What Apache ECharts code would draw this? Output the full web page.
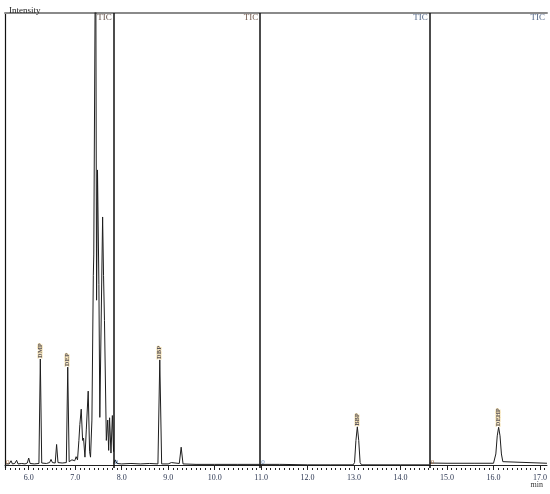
<!DOCTYPE html>
<html>
<head>
<meta charset="utf-8">
<script src="https://cdn.jsdelivr.net/npm/echarts@6/dist/echarts.min.js"></script>
<style>
	html, body { margin: 0; padding: 0; background: #fff; }
	#chart { width: 550px; height: 494px; }
</style>
</head>
<body>
<div id="chart"></div>
<script>
// time (min), intensity (% of full scale), one list per acquisition segment
const seg1 = [
	[5.49, 0.3], [5.58, 0.3], [5.62, 1.0], [5.65, 0.3], [5.70, 0.4], [5.74, 1.1], [5.77, 0.3],
	[5.85, 0.4], [5.92, 0.3], [5.97, 0.5], [6.00, 1.6], [6.03, 0.4], [6.12, 0.3], [6.22, 0.4],
	[6.25, 23.5], [6.28, 0.5], [6.38, 0.4], [6.45, 0.6], [6.48, 1.3], [6.51, 0.6], [6.57, 0.5],
	[6.60, 4.6], [6.63, 0.6], [6.72, 0.5], [6.81, 0.6], [6.84, 21.7], [6.87, 0.8], [6.90, 0.7],
	[6.93, 1.2], [6.96, 0.8], [6.99, 1.0], [7.02, 1.9], [7.05, 1.2], [7.08, 5.5], [7.10, 9.0],
	[7.13, 12.4], [7.16, 5.5], [7.18, 6.0], [7.21, 1.8], [7.24, 8.0], [7.28, 16.4], [7.31, 3.0],
	[7.33, 1.8], [7.36, 10.0], [7.39, 42.0], [7.40, 46.5], [7.44, 125], [7.46, 36.5], [7.48, 65.3],
	[7.51, 40.0], [7.53, 10.6], [7.59, 54.9], [7.61, 42.0], [7.63, 32.0], [7.67, 5.5], [7.70, 10.0],
	[7.72, 3.3], [7.74, 10.5], [7.77, 2.7], [7.80, 11.0], [7.826, 3.0]
];
const seg2 = [
	[7.83, 0.4], [7.86, 1.2], [7.90, 0.4], [8.00, 0.3], [8.20, 0.4], [8.40, 0.3], [8.60, 0.4],
	[8.78, 0.3], [8.82, 23.3], [8.86, 0.3], [9.00, 0.3], [9.07, 0.6], [9.10, 0.3], [9.24, 0.4],
	[9.28, 4.0], [9.32, 0.3], [9.60, 0.2], [10.00, 0.2], [10.50, 0.2], [10.97, 0.2]
];
const seg3 = [
	[10.98, 0.2], [11.40, 0.2], [11.42, 0.5], [11.45, 0.2], [12.00, 0.1], [12.50, 0.1], [12.98, 0.1],
	[13.01, 0.6], [13.04, 5.5], [13.07, 8.5], [13.10, 5.5], [13.13, 0.6], [13.16, 0.1], [14.00, 0.1],
	[14.62, 0.1]
];
const seg4 = [
	[14.63, 0.5], [15.00, 0.45], [15.60, 0.45], [16.00, 0.45], [16.02, 0.8], [16.05, 2.5], [16.08, 6.5],
	[16.11, 8.4], [16.14, 6.5], [16.17, 2.5], [16.20, 0.8], [16.23, 0.45], [17.15, 0.45]
];

const segStarts = [5.49, 7.83, 10.98, 14.63];
const segEnds = [7.83, 10.98, 14.63, 17.15];
const ticColors = ['#3a2218', '#4e3020', '#223c66', '#223c66'];
const zeroColors = ['#a0602a', '#3a6aa8', '#3a6aa8', '#a0602a'];

const peakNames = ['DMP', 'DEP', 'DBP', 'BBP', 'DEHP'];
const peakTimes = [6.25, 6.84, 8.82, 13.07, 16.11];
const peakHeights = [23.5, 21.7, 23.3, 8.5, 8.4];

const majorTicks = [6, 7, 8, 9, 10, 11, 12, 13, 14, 15, 16, 17];
let minorTicks = [];
for (let i = 55; i <= 171; i++) minorTicks.push(i / 10);

const font = 'Liberation Serif';

let chart = echarts.init(document.getElementById('chart'));

function segSeries(data) {
	return {
		type: 'line',
		data: data,
		showSymbol: false,
		symbol: 'none',
		silent: true,
		animation: false,
		lineStyle: { color: '#1e1e1e', width: 1 },
		z: 3
	};
}

let series = [seg1, seg2, seg3, seg4].map(segSeries);
series[0].markLine = {
	silent: true,
	symbol: 'none',
	animation: false,
	label: { show: false },
	lineStyle: { color: '#111', width: 1.5, type: 'solid' },
	data: segEnds.slice(0, 3).map(t => ({ xAxis: t }))
};

series.push({
	type: 'scatter',
	symbolSize: 0,
	silent: true,
	animation: false,
	data: peakNames.map((n, i) => ({ name: n, value: [peakTimes[i], peakHeights[i]] })),
	label: {
		show: true,
		formatter: '{b}',
		position: 'top',
		distance: 1,
		rotate: 90,
		align: 'left',
		verticalAlign: 'middle',
		fontSize: 6.5,
		fontWeight: 'bold',
		fontFamily: font,
		color: '#33334e',
		textBorderColor: 'rgba(235,190,80,0.6)',
		textBorderWidth: 1
	},
	z: 5
});

series.push({
	type: 'scatter',
	symbolSize: 0,
	silent: true,
	animation: false,
	data: segEnds.map((t, i) => ({ value: [t, 99], label: { color: ticColors[i] } })),
	label: {
		show: true,
		formatter: 'TIC',
		position: 'left',
		distance: 2,
		fontSize: 9,
		fontFamily: font
	},
	z: 5
});

series.push({
	type: 'scatter',
	symbolSize: 0,
	silent: true,
	animation: false,
	data: segStarts.map((t, i) => ({ value: [t, 0.6], label: { color: zeroColors[i] } })),
	label: {
		show: true,
		formatter: '0',
		position: 'right',
		distance: 1,
		fontSize: 7,
		fontFamily: font
	},
	z: 5
});

let option = {
	animation: false,
	title: [
		{ text: 'Intensity', left: 4, top: 1, textStyle: { fontSize: 9, fontWeight: 'normal', fontFamily: font, color: '#222' } },
		{ text: 'min', right: 2, bottom: 0, textStyle: { fontSize: 8, fontWeight: 'normal', fontFamily: font, color: '#333' } }
	],
	grid: { left: 5, right: 0, top: 13, bottom: 26 },
	xAxis: [
		{
			type: 'value', min: 5.49, max: 17.15, position: 'bottom',
			axisLine: { lineStyle: { color: '#222', width: 1 } },
			axisTick: { customValues: majorTicks, length: 4, lineStyle: { color: '#222' } },
			axisLabel: {
				customValues: majorTicks, margin: 6, fontSize: 8, fontFamily: font, color: '#2a3550',
				formatter: v => v.toFixed(1)
			},
			splitLine: { show: false }
		},
		{
			type: 'value', min: 5.49, max: 17.15, position: 'bottom',
			axisLine: { show: false },
			axisTick: { customValues: minorTicks, length: 2, lineStyle: { color: '#222' } },
			axisLabel: { show: false },
			splitLine: { show: false }
		},
		{
			type: 'value', min: 5.49, max: 17.15, position: 'top',
			axisLine: { lineStyle: { color: '#8a8a8a', width: 2 } },
			axisTick: { show: false },
			axisLabel: { show: false },
			splitLine: { show: false }
		}
	],
	yAxis: {
		type: 'value', min: -0.6, max: 100,
		axisLine: { show: true, lineStyle: { color: '#111', width: 1.2 } },
		axisTick: { show: false },
		axisLabel: { show: false },
		splitLine: { show: false }
	},
	series: series
};

chart.setOption(option);
</script>
</body>
</html>
